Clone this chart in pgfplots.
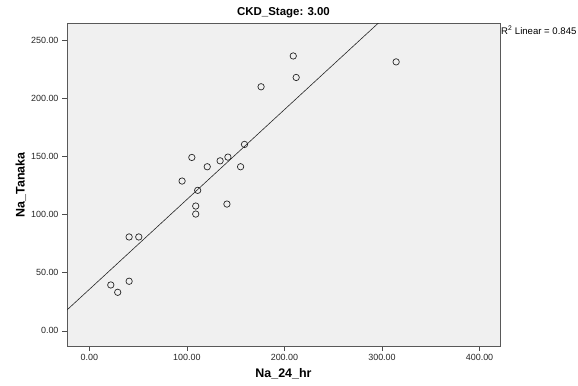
\documentclass[border=0pt]{standalone}
\usepackage{pgfplots}
\pgfplotsset{compat=1.18}
\usepackage{fontspec}
\setmainfont{Liberation Sans}
\begin{document}
\begin{tikzpicture}
\useasboundingbox (0,0) rectangle (578bp,386bp);
\begin{axis}[
  at={(67bp,40bp)}, anchor=south west,
  scale only axis, width=433bp, height=322bp,
  xmin=-23, xmax=421, ymin=-13, ymax=264,
  axis background/.style={fill=black!6},
  axis line style={draw=black!65, line width=1pt},
  xtick={0,100,200,300,400}, ytick={0,50,100,150,200,250},
  tick align=outside, tick pos=left, major tick length=5bp,
  tick style={black!70, line width=0.6pt},
  /pgf/number format/.cd, fixed, fixed zerofill, precision=2, assume math mode=true, set thousands separator={},
  /pgfplots/.cd,
  ticklabel style={font=\fontsize{9}{10}\selectfont, text=black!85},
  title={CKD\_Stage: 3.00},
  title style={font=\bfseries\fontsize{11.5}{12}\selectfont, yshift=-3bp},
  xlabel={Na\_24\_hr},
  xlabel style={font=\bfseries\fontsize{12.5}{13}\selectfont, yshift=-1bp},
  ylabel={Na\_Tanaka},
  ylabel style={font=\bfseries\fontsize{12.5}{13}\selectfont, yshift=-2bp},
  clip mode=individual,
]
\addplot[only marks, mark=o, mark size=3.2bp, mark options={draw=black!85, line width=0.7pt}] coordinates {
(209,236.5) (212,218) (176,210) (314.5,231.4)
(159,160.4) (105,149.2) (142,149.5) (134,146.3) (120.8,141.2) (155,141.2)
(95,128.9) (111,120.9) (109,107.4) (109,100.5) (141,109.1)
(40.7,80.8) (50.6,80.8) (40.7,42.7) (21.9,39.5) (29,33.2)
};
\addplot[black!85, line width=0.6pt] coordinates {(-23,18) (300,267.7)};
\node[anchor=north west, inner sep=1bp, yshift=-1bp, font=\fontsize{9.6}{10}\selectfont] at (rel axis cs:1,1) {R\textsuperscript{2} Linear = 0.845};
\end{axis}
\end{tikzpicture}
\end{document}
